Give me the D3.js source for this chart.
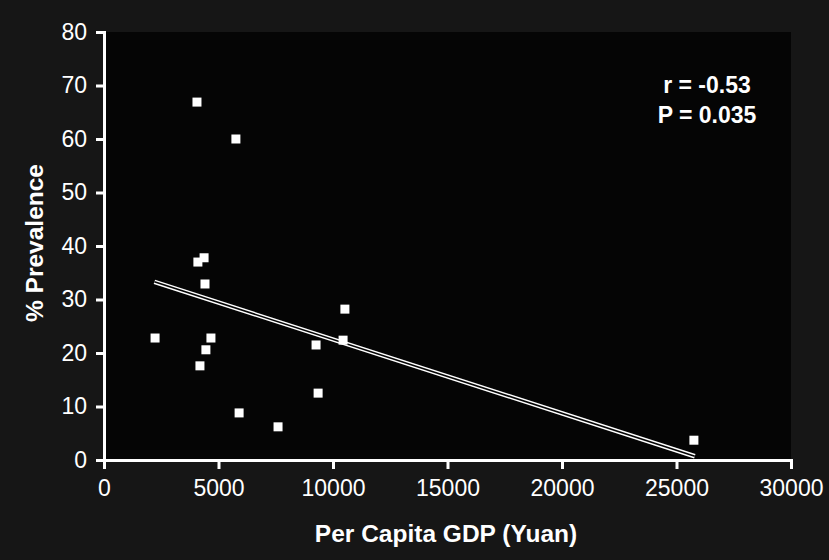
<!DOCTYPE html>
<html>
<head>
<meta charset="utf-8">
<script src="https://cdn.jsdelivr.net/npm/d3@7"></script>
<style>
  html, body { margin: 0; padding: 0; background: #161616; }
  svg { display: block; font-family: "Liberation Sans", Arial, sans-serif; }
</style>
</head>
<body>
<script>
// GDP (yuan) vs % prevalence
const gdp = [2230, 4060, 5760, 4100, 4370, 4410, 4670, 4450, 4190, 5900, 7600, 9260, 9350, 10520, 10440, 25760];
const prevalence = [22.8, 66.9, 60.0, 37.0, 37.8, 32.9, 22.8, 20.6, 17.6, 8.8, 6.2, 21.5, 12.5, 28.2, 22.4, 3.7];
const fitX = [2200, 25800];
const fitY = [33.3, 0.7];
const xTicks = [0, 5000, 10000, 15000, 20000, 25000, 30000];
const yTicks = [0, 10, 20, 30, 40, 50, 60, 70, 80];
const stats = ["r = -0.53", "P = 0.035"];

const W = 829, H = 560;
const margin = { top: 32, right: 38, bottom: 100, left: 104 };
const w = W - margin.left - margin.right;
const h = H - margin.top - margin.bottom;

const svg = d3.select("body").append("svg")
  .attr("width", W).attr("height", H);

svg.append("rect").attr("width", W).attr("height", H).attr("fill", "#161616");

const g = svg.append("g").attr("transform", `translate(${margin.left},${margin.top})`);

g.append("rect").attr("x", 0).attr("y", 0).attr("width", w).attr("height", h).attr("fill", "#050505");

const x = d3.scaleLinear().domain([0, 30000]).range([0, w]);
const y = d3.scaleLinear().domain([0, 80]).range([h, 0]);

// axes
const xAxis = g.append("g").attr("transform", `translate(0,${h})`)
  .call(d3.axisBottom(x).tickValues(xTicks).tickSize(9).tickSizeOuter(9).tickPadding(11).tickFormat(d3.format("d")));
const yAxis = g.append("g")
  .call(d3.axisLeft(y).tickValues(yTicks).tickSize(8).tickSizeOuter(8).tickPadding(9));

[xAxis, yAxis].forEach(a => {
  a.attr("font-size", 23).attr("font-family", "Liberation Sans, Arial, sans-serif");
  a.select(".domain").attr("stroke", "#fff").attr("stroke-width", 3);
  a.selectAll(".tick line").attr("stroke", "#fff").attr("stroke-width", 3);
  a.selectAll("text").attr("fill", "#fff");
});

// regression line: double stroke (white outline, dark core)
const fit = fitX.map((d, i) => [x(d), y(fitY[i])]);
const line = d3.line();
g.append("path").attr("d", line(fit)).attr("stroke", "#fff").attr("stroke-width", 4.5).attr("fill", "none");
g.append("path").attr("d", line(fit)).attr("stroke", "#050505").attr("stroke-width", 1.6).attr("fill", "none");

// points
const s = 9;
g.selectAll("rect.pt").data(gdp).join("rect")
  .attr("class", "pt")
  .attr("x", d => x(d) - s / 2)
  .attr("y", (d, i) => y(prevalence[i]) - s / 2)
  .attr("width", s).attr("height", s)
  .attr("fill", "#fff");

// stats annotation
svg.selectAll("text.stat").data(stats).join("text")
  .attr("class", "stat")
  .attr("x", 707)
  .attr("y", (d, i) => 93 + i * 30)
  .attr("text-anchor", "middle")
  .attr("font-size", 23).attr("font-weight", "bold")
  .attr("fill", "#fff")
  .text(d => d);

// axis titles
svg.append("text")
  .attr("x", 446).attr("y", 542)
  .attr("text-anchor", "middle")
  .attr("font-size", 24.5).attr("font-weight", "bold")
  .attr("fill", "#fff")
  .text("Per Capita GDP (Yuan)");

svg.append("text")
  .attr("transform", "translate(43,243) rotate(-90)")
  .attr("text-anchor", "middle")
  .attr("font-size", 24.5).attr("font-weight", "bold")
  .attr("fill", "#fff")
  .text("% Prevalence");
</script>
</body>
</html>
